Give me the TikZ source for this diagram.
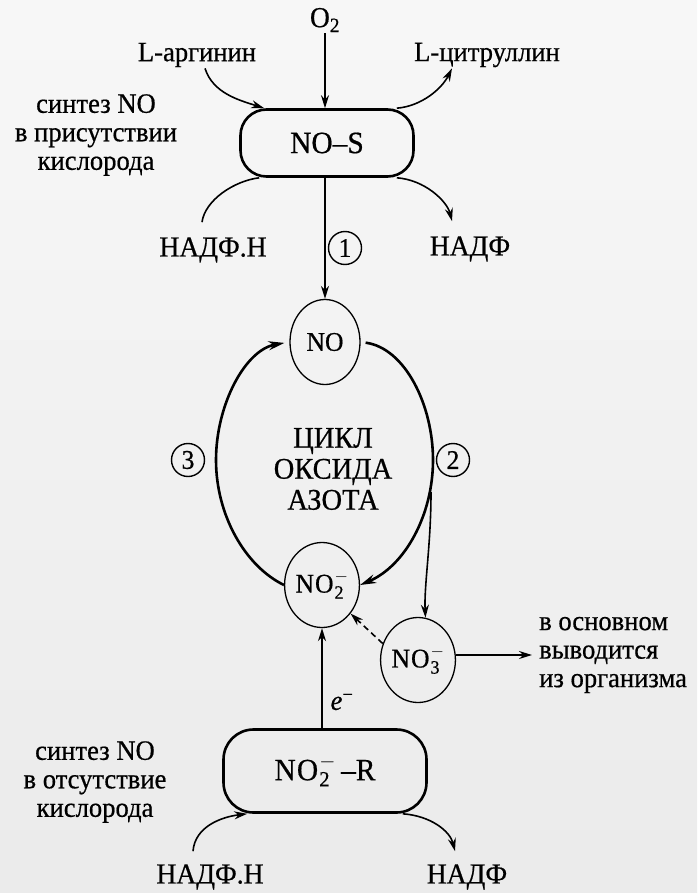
\documentclass[tikz,border=0pt]{standalone}
\usepackage{fontspec}
\setmainfont{Liberation Serif}[FakeStretch=0.95, FakeBold=0.6]
\usetikzlibrary{arrows.meta, positioning, shapes.geometric, calc}

% ion with index and charge
\newcommand{\chg}[2]{$\mathrm{NO}_{\mathrm{#1}}^{#2}$}

\begin{document}
\begin{tikzpicture}[x=1pt, y=-1pt,
    txt/.style={font=\fontsize{28}{28.5}\selectfont, align=center, inner sep=1pt},
    bigtxt/.style={font=\fontsize{29}{30}\selectfont, inner sep=1pt},
    enz/.style={draw, line width=2.6pt, rounded corners=26pt,
                font=\fontsize{31}{31}\selectfont},
    sub/.style={draw, ellipse, line width=1.3pt, minimum width=70pt,
                minimum height=85pt, inner sep=0pt, font=\fontsize{27}{27}\selectfont},
    num/.style={draw, circle, line width=1.4pt, minimum size=33pt, inner sep=0pt,
                font=\fontsize{27}{27}\selectfont},
    arr/.style={-{Stealth[length=13pt, width=8pt]}, line width=1.6pt},
    cyc/.style={-{Stealth[length=16pt, width=9pt]}, line width=2.6pt}
  ]
  \useasboundingbox (0,0) rectangle (697,893);
  \shade[top color=gray!6, bottom color=gray!16] (0,0) rectangle (697,893);

  % NO synthase part
  \node[enz, minimum width=173pt, minimum height=67pt] (nos) at (327,143) {NO--S};
  \node[bigtxt] (o2) at (325,20) {O\textsubscript{2}};
  \node[txt] (arg) at (197,55) {L-аргинин};
  \node[txt] (cit) at (487,55) {L-цитруллин};
  \node[bigtxt] (nadph1) at (213,250) {НАДФ.Н};
  \node[bigtxt] (nadp1) at (470,249) {НАДФ};
  \node[txt] (syn1) at (96,135) {синтез NO\\в присутствии\\кислорода};

  % cycle
  \node[sub] (no) at (325,342) {NO};
  \node[sub] (no2) at (322,585) {\chg{2}{-}};
  \node[sub] (no3) at (418,660) {\chg{3}{-}};
  \node[txt, font=\fontsize{30}{31}\selectfont] (cyctxt) at (333,469) {ЦИКЛ\\ОКСИДА\\АЗОТА};
  \node[num] (n1) at (345,248) {1};
  \node[num] (n2) at (453,460) {2};
  \node[num] (n3) at (188,460) {3};
  \node[txt, anchor=west, align=left] (out) at (538,655) {в основном\\выводится\\из организма};

  % nitrite reductase part
  \node[enz, minimum width=203pt, minimum height=83pt, rounded corners=30pt] (nor)
    at (325,771) {\chg{2}{-}\,--R};
  \node[txt] (el) at (342,702) {\textit{e}\textsuperscript{−}};
  \node[bigtxt] (nadph2) at (210,877) {НАДФ.Н};
  \node[bigtxt] (nadp2) at (467,877) {НАДФ};
  \node[txt] (syn2) at (95,782) {синтез NO\\в отсутствие\\кислорода};

  \coordinate (argin) at ([xshift=25pt]nos.north west);
  \coordinate (citout) at ([xshift=-18pt]nos.north east);
  \coordinate (nadphin) at ([xshift=20pt]nos.south west);
  \coordinate (nadpout) at ([xshift=-18pt]nos.south east);
  \coordinate (br) at (431,492);

  \draw[arr] (o2) -- (o2 |- nos.north);
  \draw[arr] ([xshift=8pt]arg.south) .. controls +(8,25) and +(-25,-8) .. (argin);
  \draw[arr] (citout) .. controls +(25,-2) and +(-10,20) .. ([xshift=-35pt]cit.south);
  \draw[line width=1.6pt] ([xshift=-11pt, yshift=14pt]nadph1.north)
    .. controls +(3,-22) and +(-25,3) .. (nadphin);
  \draw[arr] (nadpout) .. controls +(28,2) and +(-5,-20)
    .. ([xshift=-18pt, yshift=14pt]nadp1.north);
  \draw[arr] (nos.south -| no) -- (no.north);

  \draw[cyc, shorten <=5pt] (no.east) .. controls (405,348) and (433,405) .. (433,460)
    .. controls (433,515) and (405,566) .. (no2.east);
  \draw[cyc, shorten >=5pt] (no2.west) .. controls (245,566) and (216,515) .. (216,460)
    .. controls (216,405) and (245,350) .. (no.west);
  \draw[arr] (br) .. controls (431,545) and (424,585) .. (no3.80);
  \draw[arr, dash pattern=on 6pt off 4pt] (no3.155) -- (no2.-45);
  \draw[arr, shorten >=6pt] (no3.east |- out.west) -- (out.west);

  \draw[arr] (nor.north -| no2) -- (no2.south);
  \draw[arr] ([xshift=-17pt, yshift=12pt]nadph2.north) .. controls +(2,-25) and +(-25,3)
    .. ([xshift=25pt]nor.south west);
  \draw[arr] ([xshift=-25pt]nor.south east) .. controls +(28,2) and +(-5,-20)
    .. ([xshift=-12pt, yshift=12pt]nadp2.north);
\end{tikzpicture}
\end{document}
